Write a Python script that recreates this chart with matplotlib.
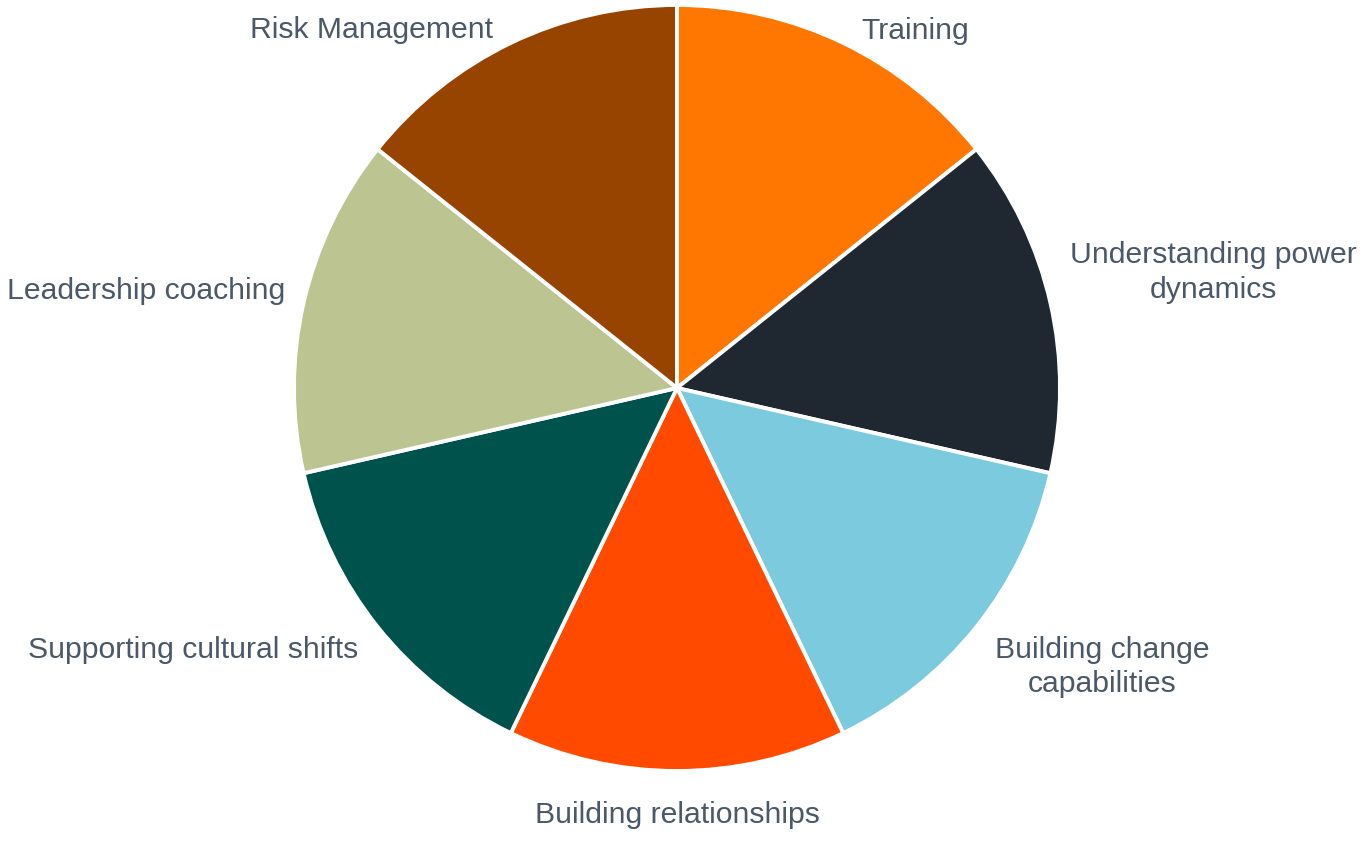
import numpy as np
import matplotlib
matplotlib.use("Agg")
import matplotlib.pyplot as plt

categories = ["Training", "Understanding power\ndynamics", "Building change\ncapabilities",
              "Building relationships", "Supporting cultural shifts", "Leadership coaching",
              "Risk Management"]
values = [1, 1, 1, 1, 1, 1, 1]
colors = ["#FF7700", "#1F2730", "#7BCADD", "#FF4A00", "#00524C", "#BCC591", "#974400"]

W, H = 1372, 843
fig = plt.figure(figsize=(W / 100, H / 100), dpi=100)
cx, cy, r = 677, 388, 383
ax = fig.add_axes([(cx - r) / W, (H - cy - r) / H, 2 * r / W, 2 * r / H])

wedges, _ = ax.pie(values, colors=colors, startangle=90, counterclock=False, radius=1,
                   wedgeprops=dict(edgecolor="white", linewidth=2.8))
ax.set_xlim(-1, 1)
ax.set_ylim(-1, 1)
ax.set_aspect("equal")
ax.axis("off")

# label placement: (radial distance, angular offset in degrees)
placement = [(1.050, -1.6), (1.070, 3.5), (1.105, -2.7), (1.115, 0.0),
             (1.078, 0.8), (1.055, -1.1), (1.050, 1.5)]
for w, lab, (d, dt) in zip(wedges, categories, placement):
    ang = np.deg2rad((w.theta1 + w.theta2) / 2 + dt)
    x, y = d * np.cos(ang), d * np.sin(ang)
    if abs(x) < 0.05:
        ha = "center"
    elif x > 0:
        ha = "left"
    else:
        ha = "right"
    ax.text(x, y, lab, ha=ha, va="center", multialignment="center", linespacing=1.3,
            fontsize=21.7, color="#4A5868", family="Liberation Sans", clip_on=False)

fig.savefig("out.png", dpi=100, facecolor="white")
